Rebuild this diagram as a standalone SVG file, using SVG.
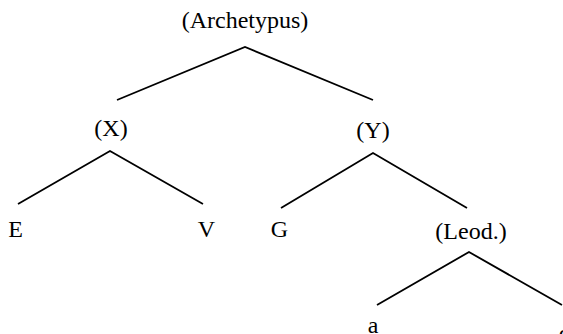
<svg xmlns="http://www.w3.org/2000/svg" width="563" height="334" viewBox="0 0 563 334">
<style>
text{font-family:"Liberation Serif","Times New Roman",serif;font-size:24px;fill:#000;text-anchor:middle}
.e{stroke:#000;stroke-width:1.8;fill:none}
</style>
<rect width="563" height="334" fill="#fff"/>
<g id="connectors">
<polyline class="e" points="117,100 245,47 373,100"/>
<polyline class="e" points="18,204 110,151 203,204"/>
<polyline class="e" points="281,208 373,153 467,208"/>
<polyline class="e" points="377,305 469,252 562,305"/>
</g>
<g id="archetypus"><text x="245" y="28">(Archetypus)</text></g>
<g id="x"><text x="111" y="136">(X)</text></g>
<g id="y"><text x="373" y="138">(Y)</text></g>
<g id="e"><text x="15.5" y="237">E</text></g>
<g id="v"><text x="206.5" y="237">V</text></g>
<g id="g"><text x="279.5" y="237">G</text></g>
<g id="leod"><text x="471" y="239">(Leod.)</text></g>
<g id="a"><text x="373" y="333">a</text></g>
<g id="alpha"><text x="565" y="341">α</text></g>
</svg>
